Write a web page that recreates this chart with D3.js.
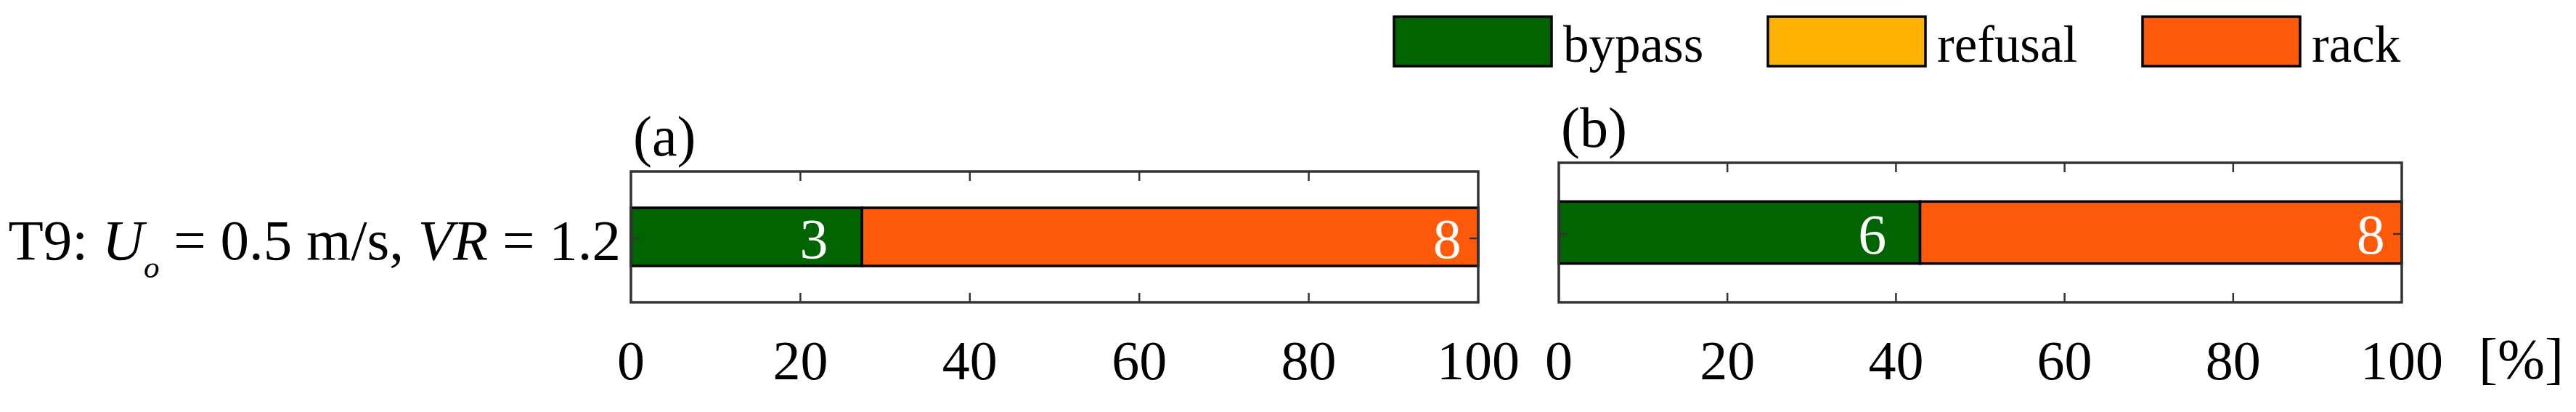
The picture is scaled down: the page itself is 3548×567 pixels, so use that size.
<!DOCTYPE html>
<html>
<head>
<meta charset="utf-8">
<script src="https://d3js.org/d3.v7.min.js"></script>
<style>
  body { margin: 0; background: #fff; }
  text { font-family: "Liberation Serif", "Times New Roman", serif; }
</style>
</head>
<body>
<div id="myDiv"></div>
<script>
// data
var panels = ["(a)", "(b)"];
var seriesNames = ["bypass", "refusal", "rack"];
var seriesColors = ["#006400", "#ffb300", "#ff5a0a"];
var bypassCounts = [3, 6];
var refusalCounts = [0, 0];
var rackCounts = [8, 8];
var xTicks = [0, 20, 40, 60, 80, 100];

var width = 3548;
var height = 567;

var svg = d3.select("#myDiv")
    .append("svg")
    .attr("width", width)
    .attr("height", height);

// panel boxes (pixel layout)
var boxes = [
    {x0: 869, x1: 2036, y0: 236, y1: 416},
    {x0: 2147, x1: 3308, y0: 224, y1: 416}
];

var counts = [bypassCounts, refusalCounts, rackCounts];
var labelGap = [4, 2, 2];   // label offset from segment end, in %

panels.forEach(function(name, i) {
    var b = boxes[i];
    var x = d3.scaleLinear().domain([0, 100]).range([b.x0, b.x1]);
    var y = d3.scaleLinear().domain([0.1, 1.9]).range([b.y0, b.y1]);
    var g = svg.append("g");

    var total = d3.sum(counts, function(c) { return c[i]; });
    var start = 0;
    var segs = [];
    counts.forEach(function(c, k) {
        var pct = c[i] / total * 100;
        segs.push({k: k, n: c[i], a: start, b: start + pct});
        start += pct;
    });

    g.selectAll("rect.seg")
        .data(segs.filter(function(d) { return d.n > 0; }))
        .enter()
        .append("rect")
        .attr("x", function(d) { return x(d.a); })
        .attr("width", function(d) { return x(d.b) - x(d.a); })
        .attr("y", y(0.6))
        .attr("height", y(1.4) - y(0.6))
        .attr("fill", function(d) { return seriesColors[d.k]; })
        .attr("stroke", "#000")
        .attr("stroke-width", 3.5);

    g.selectAll("text.cnt")
        .data(segs.filter(function(d) { return d.n > 0; }))
        .enter()
        .append("text")
        .attr("x", function(d) { return x(d.b - labelGap[d.k]); })
        .attr("y", y(1) + 29)
        .attr("text-anchor", "end")
        .attr("fill", "#fff")
        .attr("font-size", 78)
        .text(function(d) { return d.n; });

    // box
    g.append("rect")
        .attr("x", b.x0).attr("y", b.y0)
        .attr("width", b.x1 - b.x0).attr("height", b.y1 - b.y0)
        .attr("fill", "none")
        .attr("stroke", "#333")
        .attr("stroke-width", 3.5);

    // ticks inside top and bottom
    var inner = xTicks.slice(1, -1);
    g.selectAll("line.tb")
        .data(inner)
        .enter()
        .append("line")
        .attr("x1", x).attr("x2", x)
        .attr("y1", b.y1).attr("y2", b.y1 - 13)
        .attr("stroke", "#333").attr("stroke-width", 2.5);
    g.selectAll("line.tt")
        .data(inner)
        .enter()
        .append("line")
        .attr("x1", x).attr("x2", x)
        .attr("y1", b.y0).attr("y2", b.y0 + 13)
        .attr("stroke", "#333").attr("stroke-width", 2.5);
    // y ticks
    [b.x0, b.x1].forEach(function(px, j) {
        g.append("line")
            .attr("x1", px).attr("x2", px + (j ? -12 : 12))
            .attr("y1", y(1) + 2).attr("y2", y(1) + 2)
            .attr("stroke", "#333").attr("stroke-width", 2.5);
    });

    // tick labels
    g.selectAll("text.tl")
        .data(xTicks)
        .enter()
        .append("text")
        .attr("x", x)
        .attr("y", 522)
        .attr("text-anchor", "middle")
        .attr("font-size", 76)
        .text(function(d) { return d; });

    g.append("text")
        .attr("x", b.x0 + 3)
        .attr("y", b.y0 - 22)
        .attr("font-size", 78)
        .text(name);
});

// unit
svg.append("text")
    .attr("x", 3414)
    .attr("y", 520)
    .attr("font-size", 78)
    .text("[%]");

// category label
var lab = svg.append("text")
    .attr("x", 855)
    .attr("y", 357)
    .attr("text-anchor", "end")
    .attr("font-size", 79);
lab.append("tspan").text("T9: ");
lab.append("tspan").attr("font-style", "italic").text("U");
lab.append("tspan").attr("font-style", "italic").attr("font-size", 43).attr("dy", 25).text("o");
lab.append("tspan").attr("dy", -25).text(" = 0.5 m/s, ");
lab.append("tspan").attr("font-style", "italic").text("VR");
lab.append("tspan").text(" = 1.2");

// legend
var legX = [1920, 2435, 2951];
var leg = svg.selectAll("g.leg")
    .data(seriesNames)
    .enter()
    .append("g");
leg.append("rect")
    .attr("x", function(d, i) { return legX[i]; })
    .attr("y", 23)
    .attr("width", 217)
    .attr("height", 68)
    .attr("fill", function(d, i) { return seriesColors[i]; })
    .attr("stroke", "#000")
    .attr("stroke-width", 3.5);
leg.append("text")
    .attr("x", function(d, i) { return legX[i] + 233; })
    .attr("y", 85)
    .attr("font-size", 71)
    .text(function(d) { return d; });
</script>
</body>
</html>
